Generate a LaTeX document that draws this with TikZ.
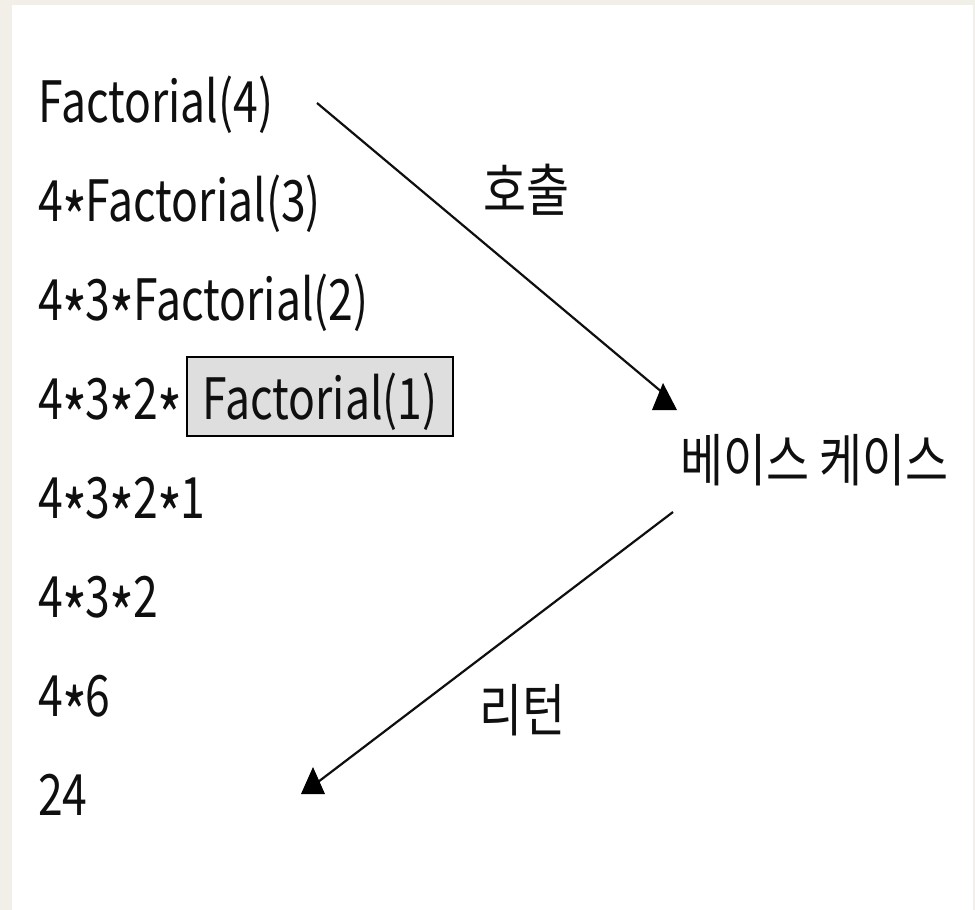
\documentclass[tikz,border=0pt]{standalone}
\usepackage{graphicx}
\usepackage{fontspec}
\setmainfont{Noto Sans CJK KR}[FakeStretch=0.78]
\newfontfamily\krfont{Noto Sans CJK KR}[FakeStretch=0.82]
\newcommand{\mstar}{\kern-0.5pt\raisebox{-23pt}{\scalebox{1.2}{*}}\kern-1.5pt}
\definecolor{bgbeige}{RGB}{242,238,232}
\definecolor{boxgray}{RGB}{222,222,222}
\definecolor{ink}{RGB}{15,15,15}
\begin{document}
\begin{tikzpicture}[x=1pt,y=-1pt,
  txt/.style={anchor=base west, inner sep=0pt, text=ink, font=\fontsize{57}{60}\selectfont},
  krtxt/.style={txt, font=\fontsize{57}{60}\selectfont\krfont},
  hbox/.style={anchor=base, inner sep=0pt, draw=black, line width=2.8pt, fill=boxgray,
    text=ink, font=\fontsize{57}{60}\selectfont, text height=62pt, text depth=17pt, minimum width=266pt},
  conn/.style={draw=ink, line width=2.2pt},
  tri/.style={fill=black}]
\fill[bgbeige] (0,0) rectangle (975,910);
\fill[white] (12,5) rectangle (973,910);
\useasboundingbox (0,0) rectangle (975,910);

\node[txt] (r1) at (38,122) {Factorial(4)};
\node[txt] (r2) at (38,221) {4\mstar Factorial(3)};
\node[txt] (r3) at (38,320) {4\mstar 3\mstar Factorial(2)};
\node[txt] (r4) at (38,419) {4\mstar 3\mstar 2\mstar};
\node[hbox] (r4b) at (320,419) {Factorial(1)};
\node[txt] (r5) at (38,518) {4\mstar 3\mstar 2\mstar 1};
\node[txt] (r6) at (38,617) {4\mstar 3\mstar 2};
\node[txt] (r7) at (38,716) {4\mstar 6};
\node[txt] (r8) at (38,815) {24};

\node[krtxt] (base) at (680,481) {베이스 케이스};
\node[krtxt] (call) at (483,211) {호출};
\node[krtxt] (ret) at (479,731) {리턴};

\coordinate (a1s) at (317,103);
\coordinate (a1e) at (663,393);
\coordinate (a1t) at (663,383);
\coordinate (a2s) at (673,512);
\coordinate (a2e) at (318,782);
\coordinate (a2t) at (313,767);

\draw[conn] (a1s) -- (a1e);
\fill[tri] (a1t) -- ++(-11,27) -- ++(25,0) -- cycle;
\draw[conn] (a2s) -- (a2e);
\fill[tri] (a2t) -- ++(-12,27) -- ++(24,0) -- cycle;
\end{tikzpicture}
\end{document}
